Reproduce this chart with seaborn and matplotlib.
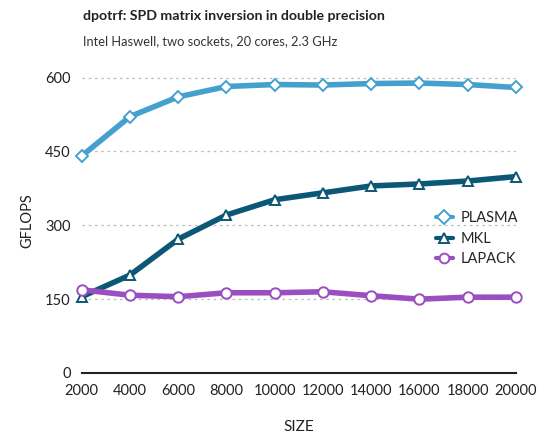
import pandas as pd
import matplotlib
matplotlib.use("Agg")
import matplotlib.pyplot as plt
import seaborn as sns

sizes = [2000, 4000, 6000, 8000, 10000, 12000, 14000, 16000, 18000, 20000]
plasma = [441, 521, 561, 582, 586, 585, 588, 589, 586, 580]
mkl = [155, 199, 272, 321, 352, 366, 380, 384, 390, 399]
lapack = [169, 158, 155, 163, 163, 165, 157, 150, 154, 154]
series = ["PLASMA", "MKL", "LAPACK"]
colors = {"PLASMA": "#45a0cf", "MKL": "#0d5776", "LAPACK": "#9a4ebf"}
markers = {"PLASMA": "D", "MKL": "^", "LAPACK": "o"}

df = pd.DataFrame({
    "SIZE": sizes * 3,
    "GFLOPS": plasma + mkl + lapack,
    "Library": ["PLASMA"] * 10 + ["MKL"] * 10 + ["LAPACK"] * 10,
})

sns.set_theme(style="white")
plt.rcParams["font.family"] = ["Lato", "DejaVu Sans"]

fig = plt.figure(figsize=(5.38, 4.36), dpi=100)
ax = fig.add_axes([0.152, 0.1445, 0.807, 0.70])

for name in series:
    sub = df[df["Library"] == name]
    ms = 6 if name == "PLASMA" else 7.5
    sns.lineplot(data=sub, x="SIZE", y="GFLOPS", ax=ax, color=colors[name],
                 linewidth=4, marker=markers[name], markersize=ms,
                 markerfacecolor="white", markeredgecolor=colors[name],
                 markeredgewidth=1.4, label=name, clip_on=False)

ax.set_xlim(2000, 20000)
ax.set_ylim(0, 620)
ax.set_xticks(sizes)
ax.set_yticks([0, 150, 300, 450, 600])
ax.tick_params(axis="both", length=0, labelsize=10.5, colors="#222222", pad=8)
for y in [150, 300, 450, 600]:
    ax.axhline(y, color="#bbbbbb", linestyle=(0, (2, 3)), linewidth=0.9, zorder=0)
sns.despine(ax=ax, left=True)
ax.spines["bottom"].set_color("#222222")
ax.spines["bottom"].set_linewidth(1.5)
ax.set_xlabel("SIZE", fontsize=11, labelpad=16, color="#222222")
ax.set_ylabel("GFLOPS", fontsize=10.5, labelpad=8, color="#222222")

leg = ax.legend(loc="center left", bbox_to_anchor=(0.785, 0.44), frameon=False,
                fontsize=10.5, handlelength=1.2, handletextpad=0.5, labelspacing=0.45)
for h in leg.legend_handles:
    h.set_linewidth(3)
    h.set_markersize(7)

fig.text(0.154, 0.963, "dpotrf: SPD matrix inversion in double precision",
         fontsize=10.2, fontweight="bold", color="#222222", va="center")
fig.text(0.154, 0.905, "Intel Haswell, two sockets, 20 cores, 2.3 GHz",
         fontsize=9.3, color="#333333", va="center")

fig.savefig("out.png", dpi=100)
